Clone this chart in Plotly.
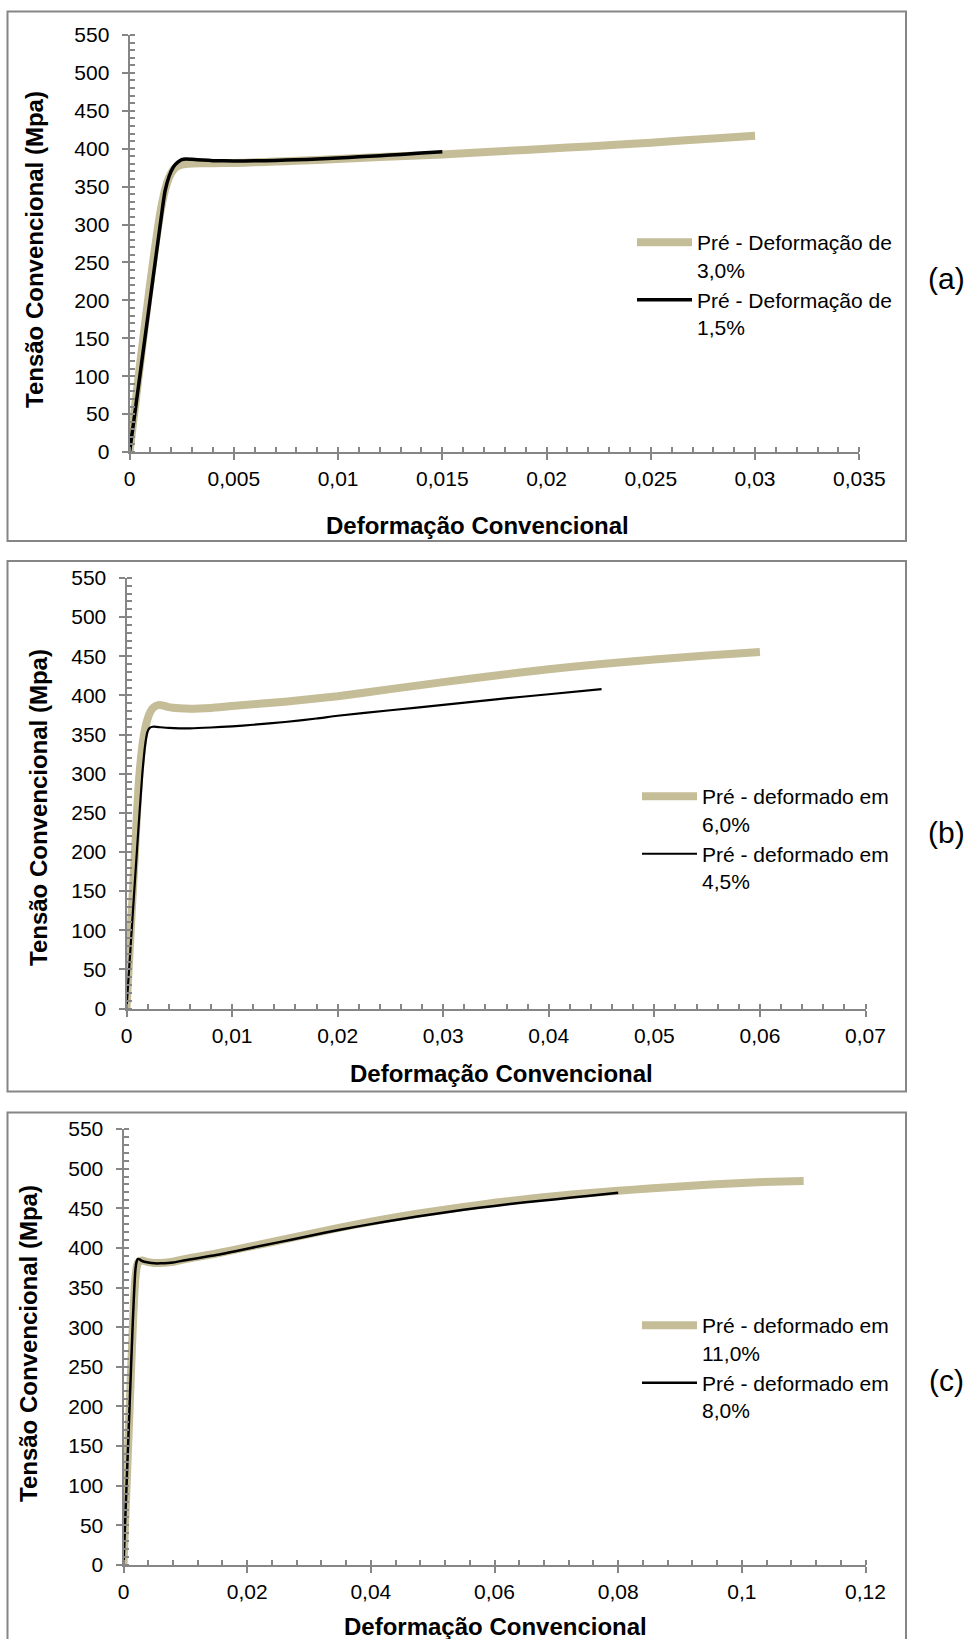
import plotly.graph_objects as go

# ---------------- data ----------------
# Panel (a)
a_gold_name = "Pré - Deformação de<br>3,0%"
a_gold_x = [0, 0.0005, 0.001, 0.0015, 0.0018, 0.002, 0.0022, 0.0025, 0.003, 0.0035, 0.004, 0.005,
            0.006, 0.007, 0.008, 0.01, 0.012, 0.015, 0.018, 0.02, 0.022, 0.025, 0.028, 0.03]
a_gold_y = [0, 115, 225, 320, 355, 368, 375, 379, 380.5, 380.8, 381, 381.3,
            382, 383, 384, 386.5, 389, 392.5, 397, 400, 403, 408, 413.5, 417]
a_black_name = "Pré - Deformação de<br>1,5%"
a_black_x = [0, 0.0005, 0.001, 0.0015, 0.0017, 0.0019, 0.0021, 0.0023, 0.0025, 0.0027, 0.003, 0.0035,
             0.004, 0.005, 0.006, 0.007, 0.008, 0.009, 0.01, 0.011, 0.012, 0.013, 0.014, 0.015]
a_black_y = [0, 102, 204, 306, 344, 364, 376, 382, 385.5, 386.5, 386, 385,
             384.3, 383.8, 384, 384.6, 385.4, 386.5, 387.8, 389.3, 390.8, 392.5, 394.2, 396]

# Panel (b)
b_gold_name = "Pré - deformado em<br>6,0%"
b_gold_x = [0, 0.0004, 0.0008, 0.0012, 0.0016, 0.002, 0.0023, 0.0026, 0.003, 0.0035, 0.004, 0.005,
            0.006, 0.008, 0.01, 0.015, 0.02, 0.025, 0.03, 0.035, 0.04, 0.045, 0.05, 0.055, 0.06]
b_gold_y = [0, 100, 200, 295, 345, 370, 380, 385, 387.5, 387, 385, 383.5,
            383, 384, 386.5, 392, 399, 408, 417, 425.5, 433.5, 440, 446, 451, 455.5]
b_black_name = "Pré - deformado em<br>4,5%"
b_black_x = [0, 0.0005, 0.001, 0.0015, 0.0018, 0.002, 0.0022, 0.0025, 0.003, 0.004, 0.005, 0.006,
             0.008, 0.01, 0.012, 0.015, 0.018, 0.02, 0.025, 0.03, 0.035, 0.04, 0.045]
b_black_y = [0, 102, 204, 300, 340, 354, 358.5, 360, 359.5, 358.5, 358, 358,
             359, 360.5, 362.5, 366, 370.5, 374, 381, 388, 395, 401.5, 408]

# Panel (c)
c_gold_name = "Pré - deformado em<br>11,0%"
c_gold_x = [0, 0.0005, 0.001, 0.0015, 0.0019, 0.0022, 0.0025, 0.003, 0.004, 0.005, 0.006, 0.008,
            0.01, 0.015, 0.02, 0.025, 0.03, 0.035, 0.04, 0.045, 0.05, 0.055, 0.06, 0.065, 0.07,
            0.075, 0.08, 0.085, 0.09, 0.095, 0.1, 0.105, 0.11]
c_gold_y = [0, 100, 200, 300, 360, 378, 383, 384, 382, 381, 381, 382.5,
            386, 393, 401, 409, 417.5, 425.5, 433, 440, 446, 451.5, 457, 461.5, 465.5,
            469, 472, 475, 477.5, 480, 482, 483.5, 484.5]
c_black_name = "Pré - deformado em<br>8,0%"
c_black_x = [0, 0.0005, 0.001, 0.0015, 0.0019, 0.0021, 0.0023, 0.0026, 0.003, 0.004, 0.005, 0.006,
             0.008, 0.01, 0.015, 0.02, 0.025, 0.03, 0.035, 0.04, 0.045, 0.05, 0.055, 0.06, 0.065,
             0.07, 0.075, 0.08]
c_black_y = [0, 102, 204, 306, 370, 382, 386, 385.5, 383.5, 381.5, 380.5, 380.5,
             381.5, 384.5, 391, 399, 407, 415, 423, 430, 436.5, 442.5, 448, 453, 457.5,
             461.5, 465.5, 469.5]

# Tick labels
a_xticks = [0, 0.005, 0.01, 0.015, 0.02, 0.025, 0.03, 0.035]
a_xlabels = ["0", "0,005", "0,01", "0,015", "0,02", "0,025", "0,03", "0,035"]
b_xticks = [0, 0.01, 0.02, 0.03, 0.04, 0.05, 0.06, 0.07]
b_xlabels = ["0", "0,01", "0,02", "0,03", "0,04", "0,05", "0,06", "0,07"]
c_xticks = [0, 0.02, 0.04, 0.06, 0.08, 0.1, 0.12]
c_xlabels = ["0", "0,02", "0,04", "0,06", "0,08", "0,1", "0,12"]
yticks = [0, 50, 100, 150, 200, 250, 300, 350, 400, 450, 500, 550]
ylabels = [str(v) for v in yticks]

y_title = "Tensão Convencional (Mpa)"
x_title = "Deformação Convencional"
panel_labels = ["(a)", "(b)", "(c)"]

# ---------------- style ----------------
W, H = 968, 1639
GOLD = "#C4BD97"
BLACK = "#000000"
AXIS = "#868686"
FONT = "Liberation Sans, Arial, sans-serif"


def px(x):
    return x / W


def py(y):
    return 1 - y / H


fig = go.Figure()

panels = [
    dict(gx=a_gold_x, gy=a_gold_y, gn=a_gold_name, bx=a_black_x, by=a_black_y, bn=a_black_name,
         bw=3.5, xt=a_xticks, xl=a_xlabels, xmax=0.035, minor=0.001,
         xdom=(129.6, 859.3), ydom=(35, 452), frame=(7.5, 11.5, 906, 541),
         leg=(632, 222), lab=(946, 278), ytl=(34, 250), xtl=(477, 525)),
    dict(gx=b_gold_x, gy=b_gold_y, gn=b_gold_name, bx=b_black_x, by=b_black_y, bn=b_black_name,
         bw=2.2, xt=b_xticks, xl=b_xlabels, xmax=0.07, minor=0.002,
         xdom=(126.5, 865.5), ydom=(578, 1008.5), frame=(7.5, 561, 906, 1091.5),
         leg=(637, 776), lab=(946, 833), ytl=(38, 808), xtl=(501, 1073)),
    dict(gx=c_gold_x, gy=c_gold_y, gn=c_gold_name, bx=c_black_x, by=c_black_y, bn=c_black_name,
         bw=2.5, xt=c_xticks, xl=c_xlabels, xmax=0.12, minor=0.004,
         xdom=(123.5, 865.5), ydom=(1129, 1565), frame=(7.5, 1112.5, 906, 1660),
         leg=(637, 1305), lab=(946, 1380), ytl=(28, 1344), xtl=(495, 1626)),
]

shapes = []
annotations = []
for i, p in enumerate(panels):
    n = "" if i == 0 else str(i + 1)
    lg = "legend" + n
    xa, ya = "x" + n, "y" + n
    fig.add_trace(go.Scatter(x=p["gx"], y=p["gy"], name=p["gn"], mode="lines",
                             line=dict(color=GOLD, width=8, shape="spline", smoothing=0.6),
                             xaxis=xa, yaxis=ya, legend=lg))
    fig.add_trace(go.Scatter(x=p["bx"], y=p["by"], name=p["bn"], mode="lines",
                             line=dict(color=BLACK, width=p["bw"], shape="spline", smoothing=0.6),
                             xaxis=xa, yaxis=ya, legend=lg))
    common = dict(showline=True, linecolor=AXIS, linewidth=2, showgrid=False, zeroline=False,
                  ticks="outside", ticklen=6, tickwidth=2, tickcolor=AXIS, automargin=False,
                  tickfont=dict(family=FONT, size=21, color="black"))
    fig.layout["xaxis" + n] = dict(
        common, domain=[px(p["xdom"][0]), px(p["xdom"][1])], anchor=ya,
        range=[0, p["xmax"]], tickmode="array", tickvals=p["xt"], ticktext=p["xl"],
        ticklabelstandoff=1,
        minor=dict(tickmode="linear", tick0=0, dtick=p["minor"], ticks="inside", ticklen=5,
                   tickwidth=2, tickcolor=AXIS))
    fig.layout["yaxis" + n] = dict(
        common, domain=[py(p["ydom"][1]), py(p["ydom"][0])], anchor=xa,
        range=[0, 550], tickmode="array", tickvals=yticks, ticktext=ylabels,
        ticklabelstandoff=8,
        minor=dict(tickmode="linear", tick0=0, dtick=10, ticks="inside", ticklen=5,
                   tickwidth=2, tickcolor=AXIS))
    fig.layout[lg] = dict(x=px(p["leg"][0]), y=py(p["leg"][1]), xanchor="left", yanchor="top",
                          bgcolor="rgba(0,0,0,0)", font=dict(family=FONT, size=21, color="black"),
                          valign="top", tracegroupgap=0, itemwidth=55)
    f = p["frame"]
    shapes.append(dict(type="rect", xref="paper", yref="paper",
                       x0=px(f[0]), x1=px(f[2]), y0=py(f[3]), y1=py(f[1]),
                       line=dict(color=AXIS, width=2), fillcolor="rgba(0,0,0,0)", layer="below"))
    annotations.append(dict(text=panel_labels[i], x=px(p["lab"][0]), y=py(p["lab"][1]),
                            xref="paper", yref="paper", showarrow=False,
                            xanchor="center", yanchor="middle",
                            font=dict(family=FONT, size=30, color="black")))
    annotations.append(dict(text="<b>" + y_title + "</b>", x=px(p["ytl"][0]), y=py(p["ytl"][1]),
                            xref="paper", yref="paper", showarrow=False, textangle=-90,
                            xanchor="center", yanchor="middle",
                            font=dict(family=FONT, size=24, color="black")))
    annotations.append(dict(text="<b>" + x_title + "</b>", x=px(p["xtl"][0]), y=py(p["xtl"][1]),
                            xref="paper", yref="paper", showarrow=False,
                            xanchor="center", yanchor="middle",
                            font=dict(family=FONT, size=24, color="black")))

fig.update_layout(template="none", width=W, height=H, margin=dict(l=0, r=0, t=0, b=0, pad=0),
                  autosize=False,
                  paper_bgcolor="white", plot_bgcolor="white", showlegend=True,
                  shapes=shapes, annotations=annotations, separators=",.")

fig.write_html("out.html", config={"displayModeBar": False, "responsive": False},
               post_script="document.body.style.margin='0px';document.body.style.overflow='hidden';")
